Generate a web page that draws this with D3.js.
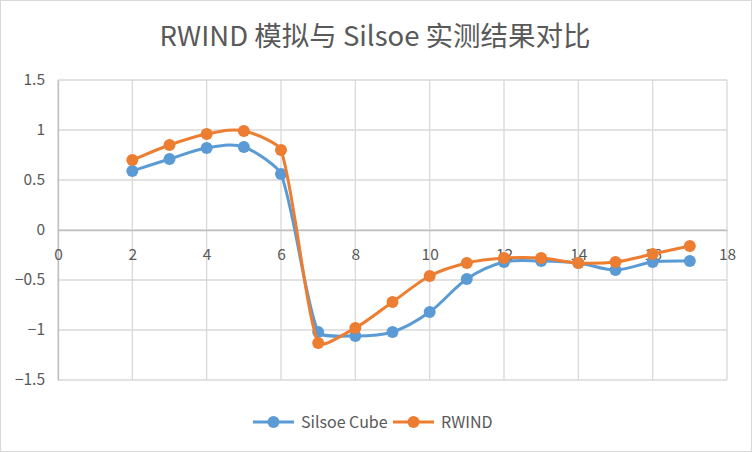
<!DOCTYPE html>
<html>
<head>
<meta charset="utf-8">
<script src="https://cdn.jsdelivr.net/npm/d3@7"></script>
<style>
  body { margin: 0; background: #fff; }
  text { font-family: "Noto Sans CJK SC", "Noto Sans", sans-serif; fill: #595959; }
</style>
</head>
<body>
<div class="viz"></div>
<script>
// data
var xValues = [2, 3, 4, 5, 6, 7, 8, 9, 10, 11, 12, 13, 14, 15, 16, 17];
var silsoeCube = [0.59, 0.71, 0.82, 0.83, 0.56, -1.02, -1.06, -1.02, -0.82, -0.49, -0.32, -0.31, -0.33, -0.40, -0.32, -0.31];
var rwind = [0.70, 0.85, 0.96, 0.99, 0.80, -1.13, -0.98, -0.72, -0.46, -0.33, -0.28, -0.28, -0.33, -0.32, -0.24, -0.16];
var xTicks = [0, 2, 4, 6, 8, 10, 12, 14, 16, 18];
var yTicks = [-1.5, -1, -0.5, 0, 0.5, 1, 1.5];
var seriesNames = ["Silsoe Cube", "RWIND"];
var seriesColors = ["#5B9BD5", "#ED7D31"];

var W = 752, H = 452;
var margin = {top: 80, right: 25, bottom: 72, left: 58};
var width = W - margin.left - margin.right,
    height = H - margin.top - margin.bottom;

var svg = d3.select(".viz").append("svg")
    .attr("width", W)
    .attr("height", H);

// chart border
svg.append("rect")
    .attr("x", 0.5).attr("y", 0.5)
    .attr("width", W - 1).attr("height", H - 1)
    .attr("fill", "#fff").attr("stroke", "#d9d9d9");

var g = svg.append("g")
    .attr("transform", "translate(" + margin.left + "," + margin.top + ")");

var x = d3.scaleLinear().domain([0, 18]).range([0, width]);
var y = d3.scaleLinear().domain([-1.5, 1.5]).range([height, 0]);

// horizontal grid
g.append("g").selectAll("line")
    .data(yTicks)
    .enter().append("line")
    .attr("x1", 0).attr("x2", width)
    .attr("y1", function(d) { return y(d); })
    .attr("y2", function(d) { return y(d); })
    .attr("stroke", "#d9d9d9").attr("stroke-width", 1.3);

// vertical grid
g.append("g").selectAll("line")
    .data(xTicks)
    .enter().append("line")
    .attr("y1", 0).attr("y2", height)
    .attr("x1", function(d) { return x(d); })
    .attr("x2", function(d) { return x(d); })
    .attr("stroke", "#d9d9d9").attr("stroke-width", 1.3);

// y axis
var yAxis = g.append("g")
    .call(d3.axisLeft(y).tickValues(yTicks).tickSize(0).tickPadding(13).tickFormat(d3.format("")));
yAxis.select(".domain").attr("stroke", "#bfbfbf").attr("stroke-width", 1.3);
yAxis.selectAll("text").style("font-size", "15.5px").attr("fill", "#595959");

// x axis through zero
var xAxis = g.append("g")
    .attr("transform", "translate(0," + y(0) + ")")
    .call(d3.axisBottom(x).tickValues(xTicks).tickSize(0).tickPadding(19));
xAxis.select(".domain").attr("stroke", "#bfbfbf").attr("stroke-width", 1.3);
xAxis.selectAll("text").style("font-size", "15.5px").attr("fill", "#595959");

// excel style smoothing: catmull-rom bezier handles (1/6); when a handle
// would be longer than half the segment it is cut back to segment/6
function smoothPath(pts) {
  var p = d3.path();
  var n = pts.length;
  function handle(a, b, d12) {
    var dx = (b[0] - a[0]) / 6, dy = (b[1] - a[1]) / 6;
    var len = Math.sqrt(dx * dx + dy * dy);
    if (len > d12 / 2) { dx *= (d12 / 6) / len; dy *= (d12 / 6) / len; }
    return [dx, dy];
  }
  p.moveTo(pts[0][0], pts[0][1]);
  for (var i = 0; i < n - 1; i++) {
    var p0 = pts[Math.max(i - 1, 0)], p1 = pts[i],
        p2 = pts[i + 1], p3 = pts[Math.min(i + 2, n - 1)];
    var d12 = Math.hypot(p2[0] - p1[0], p2[1] - p1[1]);
    var h1 = handle(p0, p2, d12), h2 = handle(p1, p3, d12);
    p.bezierCurveTo(p1[0] + h1[0], p1[1] + h1[1],
                    p2[0] - h2[0], p2[1] - h2[1],
                    p2[0], p2[1]);
  }
  return p.toString();
}

[silsoeCube, rwind].forEach(function(vals, i) {
  var pts = xValues.map(function(xv, j) { return [x(xv), y(vals[j])]; });
  g.append("path")
      .attr("fill", "none")
      .attr("stroke", seriesColors[i])
      .attr("stroke-width", 3)
      .attr("d", smoothPath(pts));
  g.append("g").selectAll("circle")
      .data(pts)
      .enter().append("circle")
      .attr("r", 6)
      .attr("fill", seriesColors[i])
      .attr("cx", function(d) { return d[0]; })
      .attr("cy", function(d) { return d[1]; });
});

// title
svg.append("text")
    .attr("x", 375).attr("y", 46)
    .attr("text-anchor", "middle")
    .style("font-size", "27.5px")
    .text("RWIND 模拟与 Silsoe 实测结果对比");

// legend
var legendX = [253, 393];
seriesNames.forEach(function(name, i) {
  var lg = svg.append("g").attr("transform", "translate(" + legendX[i] + ",422)");
  lg.append("line").attr("x1", 0).attr("x2", 41)
      .attr("stroke", seriesColors[i]).attr("stroke-width", 3);
  lg.append("circle").attr("cx", 20.5).attr("r", 6).attr("fill", seriesColors[i]);
  lg.append("text").attr("x", 48).attr("dy", "0.35em")
      .style("font-size", "16px").text(name);
});
</script>
</body>
</html>
